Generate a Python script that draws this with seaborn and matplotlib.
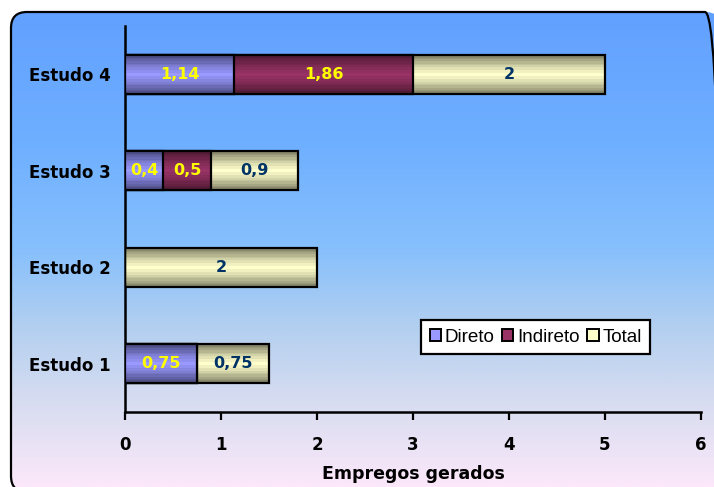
import numpy as np
import pandas as pd
import matplotlib
matplotlib.use("Agg")
import matplotlib.pyplot as plt
import seaborn as sns
from matplotlib.patches import FancyBboxPatch, Patch
from matplotlib.colors import to_rgb

# --- data ---------------------------------------------------------------
estudos = ["Estudo 4", "Estudo 3", "Estudo 2", "Estudo 1"]
series = ["Direto", "Indireto", "Total"]
direto = [1.14, 0.4, 0.0, 0.75]
indireto = [1.86, 0.5, 0.0, 0.0]
total = [2.0, 0.9, 2.0, 0.75]
x_ticks = [0, 1, 2, 3, 4, 5, 6]

centre_colors = {"Direto": "#9999FF", "Indireto": "#993366", "Total": "#FFFFCC"}
edge_colors = {"Direto": "#46467A", "Indireto": "#4A1830", "Total": "#7A7A60"}
label_colors = {"Direto": "#FFFF00", "Indireto": "#FFFF00", "Total": "#003366"}

values = {"Direto": direto, "Indireto": indireto, "Total": total}

W, H = 714, 487
sns.set_theme(style="white")
plt.rcParams["font.family"] = ["DejaVu Sans"]

fig = plt.figure(figsize=(W / 100, H / 100), dpi=100)
fig.patch.set_facecolor("white")

# --- rounded panel with vertical blue-to-pink gradient ------------------
bg = fig.add_axes([0, 0, 1, 1], zorder=-10)
bg.set_xlim(0, W)
bg.set_ylim(0, H)
bg.axis("off")
stops_y = np.array([0, 12, 150, 250, 330, 400, 487]) / H
stops_c = np.array([
    (98, 160, 255), (98, 160, 255), (112, 176, 255), (135, 192, 252),
    (180, 208, 240), (214, 220, 240), (252, 232, 250)]) / 255.0
yy = np.linspace(0, 1, 400)
grad = np.stack([np.interp(yy, stops_y, stops_c[:, k]) for k in range(3)], axis=-1)
grad = np.repeat(grad[:, None, :], 2, axis=1)
panel = FancyBboxPatch((11, H - 492), 710, 480,
                       boxstyle="round,pad=0,rounding_size=16",
                       facecolor="none", edgecolor="black", linewidth=1.6, zorder=2)
bg.add_patch(panel)
img = bg.imshow(grad, extent=[0, W, 0, H], origin="upper", aspect="auto",
                zorder=1, interpolation="bilinear")
img.set_clip_path(panel)

# --- main chart ---------------------------------------------------------
ax = fig.add_axes([125 / W, 1 - 412 / H, 576 / W, (412 - 26) / H])
ax.set_facecolor("none")

# cumulative layers drawn from the outermost inwards
layer_order = ["Total", "Indireto", "Direto"]
cum = {}
running = np.zeros(len(estudos))
for s in series:
    running = running + np.array(values[s])
    cum[s] = running.copy()


def band_gradient(centre, edge, n=64, bands=9):
    c = np.array(to_rgb(centre))
    e = np.array(to_rgb(edge))
    u = np.linspace(0, 1, n)
    t = np.abs(2 * u - 1) ** 1.3
    t = np.round(t * bands) / bands
    col = c[None, :] + (e - c)[None, :] * t[:, None]
    return np.repeat(col[:, None, :], 2, axis=1)


for k, s in enumerate(layer_order):
    df = pd.DataFrame({"estudo": estudos, "valor": cum[s]})
    n_before = len(ax.patches)
    sns.barplot(data=df, x="valor", y="estudo", order=estudos, orient="h",
                width=0.4, color=centre_colors[s], edgecolor="black",
                linewidth=1.6, ax=ax)
    new = ax.patches[n_before:]
    gimg = band_gradient(centre_colors[s], edge_colors[s])
    for p in new:
        p.set_facecolor("none")
        p.set_zorder(2 * k + 3.5)
        x0, y0 = p.get_x(), p.get_y()
        w, h = p.get_width(), p.get_height()
        if w <= 0:
            continue
        im = ax.imshow(gimg, extent=[x0, x0 + w, y0 + h, y0], aspect="auto",
                       zorder=2 * k + 3, interpolation="nearest")
        im.set_clip_path(p)

# value labels in the middle of each segment
starts = np.zeros(len(estudos))
for s in series:
    v = np.array(values[s])
    for i, val in enumerate(v):
        if val > 0:
            txt = f"{val:g}".replace(".", ",")
            ax.text(starts[i] + val / 2, i, txt, ha="center", va="center",
                    fontsize=11.5, fontweight="bold", color=label_colors[s], zorder=20)
    starts = starts + v

ax.set_xlim(0, 6)
ax.set_ylim(3.5, -0.5)
ax.set_xticks(x_ticks)
ax.set_xticklabels([str(t) for t in x_ticks])
ax.set_ylabel("")
ax.set_xlabel("Empregos gerados", fontsize=12.5, fontweight="bold",
              labelpad=8, color="black")
ax.tick_params(axis="x", length=6, width=1.6, color="black", pad=11,
               labelsize=12, direction="out", bottom=True)
ax.tick_params(axis="y", length=0, pad=10, labelsize=12)
for lab in ax.get_xticklabels() + ax.get_yticklabels():
    lab.set_fontweight("bold")
    lab.set_color("black")
for side in ["top", "right"]:
    ax.spines[side].set_visible(False)
for side in ["left", "bottom"]:
    ax.spines[side].set_color("black")
    ax.spines[side].set_linewidth(1.8)
ax.grid(False)

handles = [Patch(facecolor=centre_colors[s], edgecolor="black", linewidth=1.4) for s in series]
leg = ax.legend(handles, series, loc="upper left", bbox_to_anchor=(0.514, 0.238),
                ncol=3, fontsize=13.6, frameon=True, fancybox=False,
                handlelength=0.6, handleheight=0.65, handletextpad=0.2,
                columnspacing=0.4, borderpad=0.45, borderaxespad=0)
leg.get_frame().set_edgecolor("black")
leg.get_frame().set_linewidth(1.6)
leg.get_frame().set_facecolor("white")
leg.get_frame().set_alpha(1)
for t in leg.get_texts():
    t.set_family(["Liberation Sans", "DejaVu Sans"])
    t.set_color("black")

fig.savefig("out.png", dpi=100)
